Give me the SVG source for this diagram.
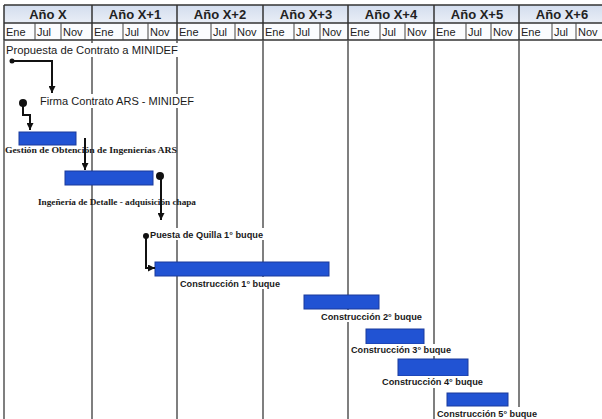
<svg xmlns="http://www.w3.org/2000/svg" width="602" height="419" viewBox="0 0 602 419">
<defs>
<linearGradient id="yg" x1="0" y1="0" x2="0" y2="1"><stop offset="0" stop-color="#d3ddee"/><stop offset="1" stop-color="#e9eef7"/></linearGradient>
<marker id="ah" viewBox="0 0 10 10" refX="10" refY="5" markerWidth="7" markerHeight="7" markerUnits="userSpaceOnUse" orient="auto"><path d="M0,0 L10,5 L0,10 z" fill="#111"/></marker>
</defs>
<style>
.hl{stroke:#333;stroke-width:1.5}
.ml{stroke:#444;stroke-width:1}
.grid{stroke:#555;stroke-width:1.5}
.yr{font-family:"Liberation Sans",Arial,sans-serif;font-size:13px;font-weight:bold;fill:#222;text-anchor:middle}
.mo{font-family:"Liberation Sans",Arial,sans-serif;font-size:11px;fill:#222}
.bar{fill:#2153d3;stroke:#1a3b9c;stroke-width:1}
.lbl{font-family:"Liberation Sans",Arial,sans-serif;font-size:11px;fill:#1a1a1a}
.lbs{font-family:"Liberation Sans",Arial,sans-serif;font-size:9px;font-weight:bold;fill:#1a1a1a}
.ser{font-family:"Liberation Serif","Times New Roman",serif;font-size:7.5px;font-weight:bold;fill:#1a1a1a}
.wb{fill:#fff}
.con{stroke:#111;stroke-width:2;fill:none}
.dot{fill:#111}
</style>
<rect width="602" height="419" fill="#fff"/>
<g id="header">
<rect x="4" y="5" width="598" height="18" fill="url(#yg)"/>
<rect x="4" y="23" width="598" height="17" fill="#fbfcfe"/>
<line class="hl" x1="4" y1="5" x2="602" y2="5"/>
<line class="hl" x1="4" y1="23" x2="602" y2="23"/>
<line class="hl" x1="4" y1="40" x2="602" y2="40"/>
<g class="hl">
<line x1="4" y1="5" x2="4" y2="40"/><line x1="92" y1="5" x2="92" y2="40"/><line x1="177" y1="5" x2="177" y2="40"/><line x1="263" y1="5" x2="263" y2="40"/><line x1="348" y1="5" x2="348" y2="40"/><line x1="434" y1="5" x2="434" y2="40"/><line x1="519" y1="5" x2="519" y2="40"/>
</g>
<g class="ml">
<line x1="35" y1="23" x2="35" y2="40"/><line x1="61" y1="23" x2="61" y2="40"/>
<line x1="123" y1="23" x2="123" y2="40"/><line x1="148" y1="23" x2="148" y2="40"/>
<line x1="211" y1="23" x2="211" y2="40"/><line x1="235" y1="23" x2="235" y2="40"/>
<line x1="294" y1="23" x2="294" y2="40"/><line x1="320" y1="23" x2="320" y2="40"/>
<line x1="380" y1="23" x2="380" y2="40"/><line x1="405" y1="23" x2="405" y2="40"/>
<line x1="466" y1="23" x2="466" y2="40"/><line x1="491" y1="23" x2="491" y2="40"/>
<line x1="552" y1="23" x2="552" y2="40"/><line x1="576" y1="23" x2="576" y2="40"/>
</g>
<text class="yr" x="48" y="19">Año X</text>
<text class="yr" x="135" y="19">Año X+1</text>
<text class="yr" x="220" y="19">Año X+2</text>
<text class="yr" x="306" y="19">Año X+3</text>
<text class="yr" x="391" y="19">Año X+4</text>
<text class="yr" x="477" y="19">Año X+5</text>
<text class="yr" x="562" y="19">Año X+6</text>
<g class="mo">
<text x="6" y="36">Ene</text><text x="37" y="36">Jul</text><text x="63" y="36">Nov</text>
<text x="94" y="36">Ene</text><text x="125" y="36">Jul</text><text x="150" y="36">Nov</text>
<text x="179" y="36">Ene</text><text x="213" y="36">Jul</text><text x="237" y="36">Nov</text>
<text x="265" y="36">Ene</text><text x="296" y="36">Jul</text><text x="322" y="36">Nov</text>
<text x="350" y="36">Ene</text><text x="382" y="36">Jul</text><text x="407" y="36">Nov</text>
<text x="436" y="36">Ene</text><text x="468" y="36">Jul</text><text x="493" y="36">Nov</text>
<text x="521" y="36">Ene</text><text x="554" y="36">Jul</text><text x="578" y="36">Nov</text>
</g>
</g>
<g id="grid" class="grid">
<line x1="4" y1="40" x2="4" y2="419"/>
<line x1="92" y1="40" x2="92" y2="419"/>
<line x1="177" y1="40" x2="177" y2="419"/>
<line x1="263" y1="40" x2="263" y2="419"/>
<line x1="348" y1="40" x2="348" y2="419"/>
<line x1="434" y1="40" x2="434" y2="419"/>
<line x1="519" y1="40" x2="519" y2="419"/>
</g>
<g id="propuesta">
<rect class="wb" x="5" y="43" width="176" height="14"/>
<text class="lbl" x="6" y="54" textLength="172" lengthAdjust="spacingAndGlyphs">Propuesta de Contrato a MINIDEF</text>
</g>
<g id="firma">
<rect class="wb" x="38" y="94" width="158" height="14"/>
<text class="lbl" x="40" y="105" textLength="154" lengthAdjust="spacingAndGlyphs">Firma Contrato ARS - MINIDEF</text>
</g>
<g id="gestion">
<rect class="bar" x="19" y="132" width="57" height="13"/>
<text class="ser" x="5" y="153" textLength="172" lengthAdjust="spacingAndGlyphs">Gestión de Obtención de Ingenierías ARS</text>
</g>
<g id="ingenieria">
<rect class="bar" x="65" y="171" width="88" height="14"/>
<text class="ser" x="38" y="205" textLength="158" lengthAdjust="spacingAndGlyphs">Ingeñería de Detalle - adquisición chapa</text>
</g>
<g id="quilla">
<rect class="wb" x="149" y="228" width="116" height="12"/>
<text class="lbs" x="150" y="237.5" textLength="113" lengthAdjust="spacingAndGlyphs">Puesta de Quilla 1° buque</text>
</g>
<g id="construccion1">
<rect class="bar" x="155" y="262" width="174" height="14"/>
<rect class="wb" x="178" y="277" width="104" height="12"/>
<text class="lbs" x="180" y="286.5" textLength="100" lengthAdjust="spacingAndGlyphs">Construcción 1° buque</text>
</g>
<g id="construccion2">
<rect class="bar" x="304" y="295" width="75" height="14"/>
<rect class="wb" x="319" y="310" width="105" height="12"/>
<text class="lbs" x="321" y="319.5" textLength="101" lengthAdjust="spacingAndGlyphs">Construcción 2° buque</text>
</g>
<g id="construccion3">
<rect class="bar" x="366" y="329" width="58" height="15"/>
<rect class="wb" x="349" y="344" width="104" height="12"/>
<text class="lbs" x="351" y="352.5" textLength="100" lengthAdjust="spacingAndGlyphs">Construcción 3° buque</text>
</g>
<g id="construccion4">
<rect class="bar" x="398" y="359" width="70" height="17"/>
<rect class="wb" x="380" y="376" width="105" height="12"/>
<text class="lbs" x="382" y="384.5" textLength="101" lengthAdjust="spacingAndGlyphs">Construcción 4° buque</text>
</g>
<g id="construccion5">
<rect class="bar" x="447" y="393" width="61" height="13"/>
<rect class="wb" x="435" y="407" width="104" height="12"/>
<text class="lbs" x="437" y="417" textLength="100" lengthAdjust="spacingAndGlyphs">Construcción 5° buque</text>
</g>
<g id="connectors">
<path class="con" d="M12,61 H52 V93" marker-end="url(#ah)"/>
<circle class="dot" cx="12" cy="61" r="2.5"/>
<path class="con" d="M23,103 V115 H30 V130" marker-end="url(#ah)"/>
<circle class="dot" cx="23" cy="103" r="4"/>
<path class="con" d="M85,138 V170" marker-end="url(#ah)"/>
<path class="con" d="M161,176 V220" marker-end="url(#ah)"/>
<circle class="dot" cx="160" cy="176" r="4"/>
<path class="con" d="M146,236 V268 H155" marker-end="url(#ah)"/>
<circle class="dot" cx="146" cy="236" r="3"/>
</g>
</svg>
